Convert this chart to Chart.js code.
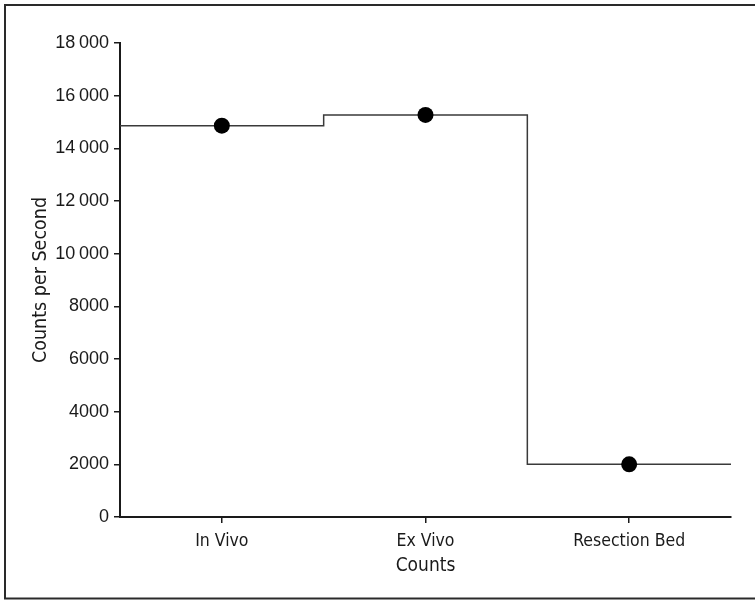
<!DOCTYPE html>
<html>
<head>
<meta charset="utf-8">
<script src="https://cdn.jsdelivr.net/npm/chart.js@4/dist/chart.umd.min.js"></script>
<style>
  html, body { margin: 0; padding: 0; background: #ffffff; }
  #wrap { position: relative; width: 755px; height: 600px; }
</style>
</head>
<body>
<div id="wrap"><canvas id="c" width="755" height="600"></canvas></div>
<script>
// ---- data ----
const categories = ['In Vivo', 'Ex Vivo', 'Resection Bed'];
const countsPerSecond = [14860, 15270, 2000];
const yTickLabels = ['0', '2000', '4000', '6000', '8000', '10\u2009000', '12\u2009000', '14\u2009000', '16\u2009000', '18\u2009000'];
const xTitle = 'Counts';
const yTitle = 'Counts per Second';

// points at category centres
const pointData = countsPerSecond.map((v, i) => ({ x: i, y: v }));
// step outline spanning each category's full width
const stepData = countsPerSecond.map((v, i) => ({ x: i - 0.5, y: v }));
stepData.push({ x: countsPerSecond.length - 0.5, y: countsPerSecond[countsPerSecond.length - 1] });

const ink = '#1a1a1a';
const narrow = "'DejaVu Sans Condensed', 'DejaVu Sans', sans-serif";
const regular = "'Liberation Sans', Arial, sans-serif";

const framePlugin = {
  id: 'frame',
  beforeDraw(chart) {
    const ctx = chart.ctx;
    ctx.save();
    ctx.fillStyle = '#ffffff';
    ctx.fillRect(0, 0, chart.width, chart.height);
    ctx.strokeStyle = '#2a2a2a';
    ctx.lineWidth = 2;
    ctx.strokeRect(5, 5, 800, 593.5);
    ctx.restore();
  }
};

new Chart(document.getElementById('c'), {
  type: 'scatter',
  data: {
    datasets: [
      {
        label: 'step',
        data: stepData,
        showLine: true,
        stepped: 'before',
        borderColor: '#3a3a3a',
        borderWidth: 1.5,
        pointRadius: 0,
        fill: false,
        order: 2
      },
      {
        label: 'points',
        data: pointData,
        showLine: false,
        pointRadius: 8,
        pointBackgroundColor: '#000000',
        pointBorderWidth: 0,
        order: 1
      }
    ]
  },
  options: {
    responsive: false,
    animation: false,
    layout: { padding: { left: 0, top: 43, right: 24, bottom: 0 } },
    plugins: { legend: { display: false }, tooltip: { enabled: false } },
    scales: {
      x: {
        type: 'linear',
        min: -0.5,
        max: categories.length - 0.5,
        afterBuildTicks: s => { s.ticks = categories.map((c, i) => ({ value: i })); },
        afterFit: s => { s.height = 83; },
        ticks: {
          autoSkip: false,
          maxRotation: 0,
          color: ink,
          padding: 8,
          font: { family: narrow, size: 17.5 },
          callback: (v) => categories[v]
        },
        grid: { drawOnChartArea: false, drawTicks: true, tickLength: 6, color: ink, lineWidth: 1.5 },
        border: { display: true, color: ink, width: 2 },
        title: {
          display: true,
          text: xTitle,
          color: ink,
          font: { family: narrow, size: 19 },
          padding: { top: 0, bottom: 23 }
        }
      },
      y: {
        min: 0,
        max: 18000,
        afterFit: s => { s.width = 120; },
        ticks: {
          stepSize: 2000,
          color: ink,
          padding: 5,
          font: { family: regular, size: 18 },
          callback: (v, i) => yTickLabels[i]
        },
        grid: { drawOnChartArea: false, drawTicks: true, tickLength: 6, color: ink, lineWidth: 1.5 },
        border: { display: true, color: ink, width: 2 },
        title: {
          display: true,
          text: yTitle,
          color: ink,
          font: { family: narrow, size: 19.5 },
          padding: { top: 29, bottom: 0 }
        }
      }
    }
  },
  plugins: [framePlugin]
});
</script>
</body>
</html>
